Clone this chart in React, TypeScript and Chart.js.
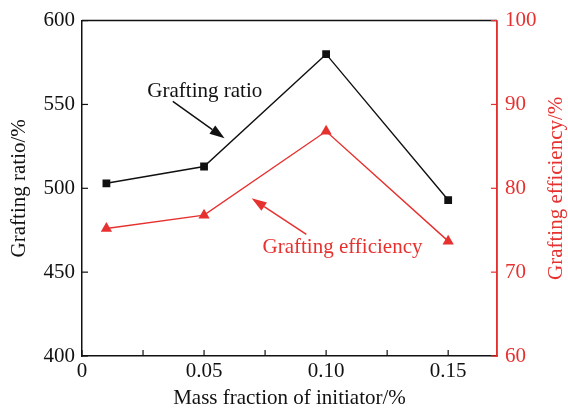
import React, { useEffect, useRef } from "react";
import { Chart, registerables } from "chart.js";

Chart.register(...registerables);

const massFraction = [0.01, 0.05, 0.1, 0.15];
const graftingRatio = [503, 513, 580, 493];
const graftingEfficiency = [75.2, 76.8, 86.8, 73.7];
const xTickValues = [0, 0.05, 0.1, 0.15];
const xTickLabels = ["0", "0.05", "0.10", "0.15"];
const xMinorTicks = [0.025, 0.075, 0.125];

const RED = "#e6312f";
const BLACK = "#111111";
const FONT = "'Liberation Serif', 'DejaVu Serif', serif";

const annotationPlugin = {
  id: "annotations",
  afterDraw(chart: any) {
    const { ctx, chartArea, scales } = chart;
    const x = scales.x;
    const y = scales.y;
    const y1 = scales.y1;
    ctx.save();
    // top border
    ctx.strokeStyle = BLACK;
    ctx.lineWidth = 1.5;
    ctx.beginPath();
    ctx.moveTo(chartArea.left, chartArea.top);
    ctx.lineTo(chartArea.right, chartArea.top);
    ctx.stroke();
    // right border red
    ctx.strokeStyle = RED;
    ctx.beginPath();
    ctx.moveTo(chartArea.right, chartArea.top);
    ctx.lineTo(chartArea.right, chartArea.bottom);
    ctx.stroke();

    // inward ticks
    const tl = 6;
    ctx.lineWidth = 1.2;
    ctx.strokeStyle = BLACK;
    [...xTickValues, ...xMinorTicks].forEach((v) => {
      const px = x.getPixelForValue(v);
      ctx.beginPath();
      ctx.moveTo(px, chartArea.bottom);
      ctx.lineTo(px, chartArea.bottom - tl);
      ctx.stroke();
    });
    y.ticks.forEach((t: any) => {
      const py = y.getPixelForValue(t.value);
      ctx.beginPath();
      ctx.moveTo(chartArea.left, py);
      ctx.lineTo(chartArea.left + tl, py);
      ctx.stroke();
    });
    ctx.strokeStyle = RED;
    y1.ticks.forEach((t: any) => {
      const py = y1.getPixelForValue(t.value);
      ctx.beginPath();
      ctx.moveTo(chartArea.right, py);
      ctx.lineTo(chartArea.right - tl, py);
      ctx.stroke();
    });

    // axis titles
    ctx.textAlign = "center";
    ctx.textBaseline = "middle";
    ctx.font = `21px ${FONT}`;
    ctx.fillStyle = BLACK;
    ctx.fillText("Mass fraction of initiator/%", (chartArea.left + chartArea.right) / 2, 398);
    ctx.save();
    ctx.translate(19, (chartArea.top + chartArea.bottom) / 2);
    ctx.rotate(-Math.PI / 2);
    ctx.fillText("Grafting ratio/%", 0, 0);
    ctx.restore();
    ctx.save();
    ctx.fillStyle = RED;
    ctx.translate(556, (chartArea.top + chartArea.bottom) / 2);
    ctx.rotate(-Math.PI / 2);
    ctx.fillText("Grafting efficiency/%", 0, 0);
    ctx.restore();

    // annotations
    const arrow = (x0: number, y0: number, x1: number, y1p: number, color: string) => {
      ctx.strokeStyle = color;
      ctx.fillStyle = color;
      ctx.lineWidth = 1.5;
      const ang = Math.atan2(y1p - y0, x1 - x0);
      const hl = 15;
      const hw = 5;
      const bx = x1 - hl * Math.cos(ang);
      const by = y1p - hl * Math.sin(ang);
      ctx.beginPath();
      ctx.moveTo(x0, y0);
      ctx.lineTo(bx, by);
      ctx.stroke();
      ctx.beginPath();
      ctx.moveTo(x1, y1p);
      ctx.lineTo(bx + hw * Math.sin(ang), by - hw * Math.cos(ang));
      ctx.lineTo(bx - hw * Math.sin(ang), by + hw * Math.cos(ang));
      ctx.closePath();
      ctx.fill();
    };
    ctx.font = `21px ${FONT}`;
    ctx.fillStyle = BLACK;
    ctx.fillText("Grafting ratio", x.getPixelForValue(0.0503), y.getPixelForValue(557.7));
    arrow(
      x.getPixelForValue(0.0372), y.getPixelForValue(551.8),
      x.getPixelForValue(0.0584), y.getPixelForValue(529.8), BLACK
    );
    ctx.fillStyle = RED;
    ctx.fillText("Grafting efficiency", x.getPixelForValue(0.1067), y1.getPixelForValue(72.9));
    arrow(
      x.getPixelForValue(0.0919), y1.getPixelForValue(74.5),
      x.getPixelForValue(0.0695), y1.getPixelForValue(78.8), RED
    );
    ctx.restore();
  },
};

export default function App() {
  const ref = useRef<HTMLCanvasElement | null>(null);
  useEffect(() => {
    if (!ref.current) return;
    const chart = new Chart(ref.current, {
      type: "line",
      data: {
        datasets: [
          {
            label: "Grafting ratio",
            data: massFraction.map((m, i) => ({ x: m, y: graftingRatio[i] })),
            borderColor: BLACK,
            backgroundColor: BLACK,
            borderWidth: 1.4,
            pointStyle: "rect",
            pointRadius: 5.5,
            pointBorderWidth: 0,
            yAxisID: "y",
          },
          {
            label: "Grafting efficiency",
            data: massFraction.map((m, i) => ({ x: m, y: graftingEfficiency[i] })),
            borderColor: RED,
            backgroundColor: RED,
            borderWidth: 1.4,
            pointStyle: "triangle",
            pointRadius: 6.5,
            pointBorderWidth: 0,
            yAxisID: "y1",
          },
        ],
      },
      options: {
        animation: false,
        responsive: false,
        maintainAspectRatio: false,
        layout: { padding: { top: 20, right: 0, left: 0, bottom: 0 } },
        plugins: { legend: { display: false }, tooltip: { enabled: false } },
        scales: {
          x: {
            type: "linear",
            min: 0,
            max: 0.17,
            afterBuildTicks: (s: any) => {
              s.ticks = xTickValues.map((v) => ({ value: v }));
            },
            afterFit: (s: any) => {
              s.height = 52;
            },
            ticks: {
              autoSkip: false,
              maxRotation: 0,
              padding: 3,
              color: BLACK,
              font: { family: FONT, size: 21 },
              callback: (v: any) => {
                const i = xTickValues.findIndex((t) => Math.abs(t - Number(v)) < 1e-9);
                return i >= 0 ? xTickLabels[i] : "";
              },
            },
            grid: { display: false, drawTicks: false },
            border: { display: true, color: BLACK, width: 1.5 },
          },
          y: {
            type: "linear",
            position: "left",
            min: 400,
            max: 600,
            afterFit: (s: any) => {
              s.width = 82;
            },
            ticks: {
              stepSize: 50,
              padding: 7,
              color: BLACK,
              font: { family: FONT, size: 21 },
            },
            grid: { display: false, drawTicks: false },
            border: { display: true, color: BLACK, width: 1.5 },
          },
          y1: {
            type: "linear",
            position: "right",
            min: 60,
            max: 100,
            afterFit: (s: any) => {
              s.width = 71;
            },
            ticks: {
              stepSize: 10,
              padding: 8,
              color: RED,
              font: { family: FONT, size: 21 },
            },
            grid: { display: false, drawTicks: false },
            border: { display: true, color: RED, width: 1.5 },
          },
        },
      },
      plugins: [annotationPlugin],
    } as any);
    return () => chart.destroy();
  }, []);
  return (
    <div style={{ position: "fixed", left: 0, top: 0, width: 568, height: 408, background: "#fff" }}>
      <canvas ref={ref} width={568} height={408} style={{ width: 568, height: 408 }} />
    </div>
  );
}
